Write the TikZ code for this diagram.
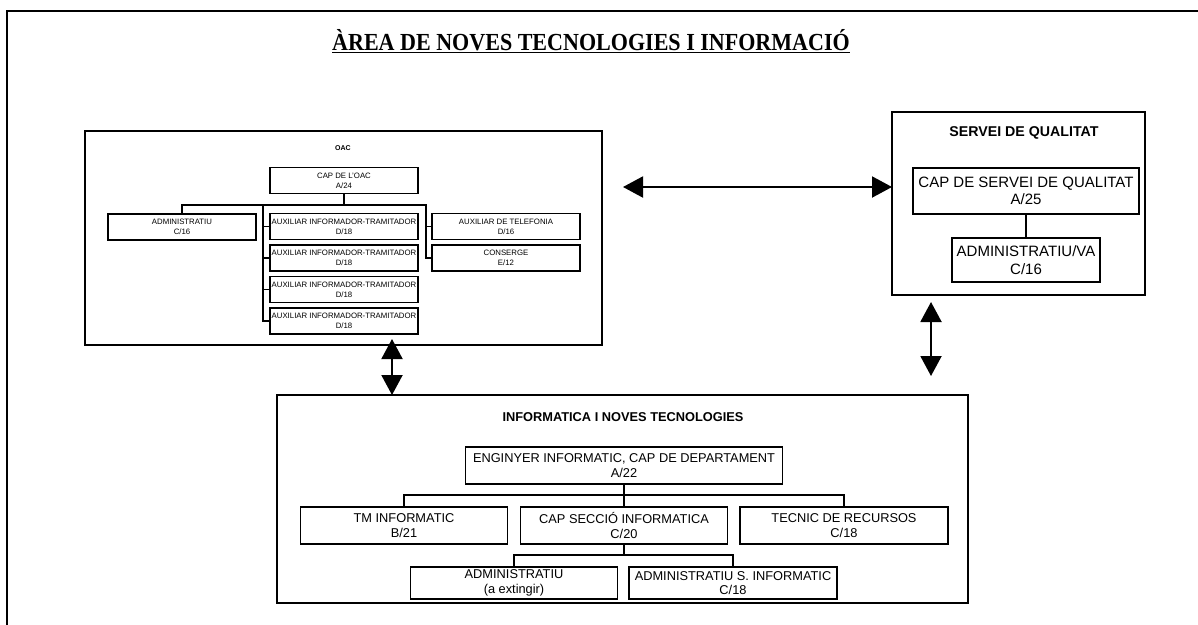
\documentclass[tikz,border=0pt]{standalone}
\usepackage{fontspec}
\usepackage{graphicx}
\setmainfont{Liberation Sans}
\newfontfamily\titleserif{Liberation Serif}
\usetikzlibrary{arrows.meta}

\tikzset{
  post/.style={draw, line width=1.6pt, inner sep=0pt, align=center},
  oacpost/.style={post, minimum width=148pt, minimum height=26pt, font=\fontsize{7.8}{9.8}\selectfont},
  qualpost/.style={post, font=\fontsize{15}{17.5}\selectfont},
  infpost/.style={post, minimum width=207pt, minimum height=37pt, font=\fontsize{12.8}{14.5}\selectfont},
  heading/.style={font=\bfseries\fontsize{#1}{#1}\selectfont},
  frame/.style={line width=1.8pt},
  link/.style={line width=1.6pt},
  both/.style={line width=2pt, {Triangle[length=20pt,width=21pt]}-{Triangle[length=20pt,width=21pt]}}
}

\begin{document}
\begin{tikzpicture}[x=1pt, y=-1pt]
\useasboundingbox (0,0) rectangle (1198,624);

\begin{scope}
  \clip (0,0) rectangle (1198,624);
  \draw[line width=2.5pt] (7,11) rectangle (1220,650);
\end{scope}

\node[anchor=base, font=\titleserif\bfseries\fontsize{24.5}{26}\selectfont] (title) at (591,50)
  {\underline{\scalebox{0.9}[1]{ÀREA DE NOVES TECNOLOGIES I INFORMACIÓ}}};

% OAC
\begin{scope}
  \draw[frame] (85,131) rectangle (602,345);
  \node[heading=7] (oactitle) at (343,148) {OAC};
  \node[oacpost] (oaccap) at (344,180.5) {CAP DE L'OAC\\A/24};
  \node[oacpost] (oacadm) at (182,227) {ADMINISTRATIU\\C/16};
  \foreach \i in {1,...,4}
    \node[oacpost] (ait\i) at (344,195+31.5*\i) {AUXILIAR INFORMADOR-TRAMITADOR\\D/18};
  \node[oacpost] (oactel) at (506,226.5) {AUXILIAR DE TELEFONIA\\D/16};
  \node[oacpost] (oaccons) at (506,258) {CONSERGE\\E/12};
  \coordinate (oacbus) at (344,205);
  \draw[link] (oaccap) -- (oacbus);
  \draw[link] (oacadm.north) |- (oacbus);
  \foreach \i in {1,...,4}
    \draw[link] (ait\i.west) -- ++(-6,0) |- (oacbus);
  \foreach \n in {oactel,oaccons}
    \draw[link] (\n.west) -- ++(-5,0) |- (oacbus);
\end{scope}

% Servei de qualitat
\begin{scope}
  \draw[frame] (892,112) rectangle (1145,295);
  \node[heading=14.2] (qualtitle) at (1024,133) {SERVEI DE QUALITAT};
  \node[qualpost, minimum width=226pt, minimum height=46pt] (qualcap) at (1026,191) {CAP DE SERVEI DE QUALITAT\\A/25};
  \node[qualpost, minimum width=148pt, minimum height=44pt] (qualadm) at (1026,260) {ADMINISTRATIU/VA\\C/16};
  \draw[link] (qualcap) -- (qualadm);
\end{scope}

% Informatica
\begin{scope}
  \draw[frame] (277,395) rectangle (968,603);
  \node[heading=12.8] (inftitle) at (623,417) {INFORMATICA I NOVES TECNOLOGIES};
  \node[infpost, minimum width=317pt] (infeng) at (624,465.5) {ENGINYER INFORMATIC, CAP DE DEPARTAMENT\\A/22};
  \node[infpost] (inftm) at (404,525.5) {TM INFORMATIC\\B/21};
  \node[infpost] (infcap) at (624,525.5) {CAP SECCIÓ INFORMATICA\\C/20};
  \node[infpost, minimum width=208pt] (inftec) at (844,525.5) {TECNIC DE RECURSOS\\C/18};
  \node[infpost, minimum height=32pt] (infadm) at (514,583) {ADMINISTRATIU\\(a extingir)};
  \node[infpost, minimum width=208pt, minimum height=32pt] (infsinf) at (733,583) {ADMINISTRATIU S. INFORMATIC\\C/18};
  \coordinate (infbus) at (624,495);
  \draw[link] (infeng) -- (infbus);
  \foreach \n in {inftm,infcap,inftec}
    \draw[link] (\n.north) |- (infbus);
  \coordinate (infsub) at (624,555);
  \draw[link] (infcap) -- (infsub);
  \foreach \n in {infadm,infsinf}
    \draw[link] (\n.north) |- (infsub);
\end{scope}

% arrows
\coordinate (oacright) at (623,187);
\coordinate (qualleft) at (892,187);
\draw[both] (oacright) -- (qualleft);
\coordinate (oacbelow) at (392,339);
\coordinate (inftop) at (392,395);
\draw[both] (oacbelow) -- (inftop);
\coordinate (qualbelow) at (931,302);
\coordinate (infright) at (931,376);
\draw[both] (qualbelow) -- (infright);

\end{tikzpicture}
\end{document}
